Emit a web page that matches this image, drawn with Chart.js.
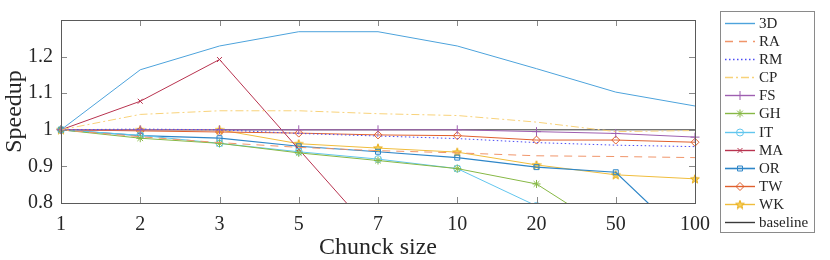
<!DOCTYPE html>
<html>
<head>
<meta charset="utf-8">
<script src="https://cdn.jsdelivr.net/npm/chart.js@4.4.0/dist/chart.umd.min.js"></script>
<style>
  body { margin: 0; background: #fff; }
</style>
</head>
<body>
<canvas id="speedupChart" width="830" height="260"></canvas>
<script>
// x categories and y tick labels
const chunkSizes = ["1", "2", "3", "5", "7", "10", "20", "50", "100"];
const yTicks = [0.8, 0.9, 1, 1.1, 1.2];

// speedup per benchmark
const speedup3D = [1.000, 1.164, 1.229, 1.268, 1.268, 1.229, 1.167, 1.103, 1.065];
const speedupRA = [1.000, 0.981, 0.965, 0.952, 0.943, 0.937, 0.929, 0.927, 0.924];
const speedupRM = [1.000, 1.002, 1.000, 0.990, 0.983, 0.976, 0.965, 0.958, 0.954];
const speedupCP = [1.000, 1.042, 1.052, 1.052, 1.044, 1.039, 1.021, 0.995, 0.998];
const speedupFS = [1.000, 1.000, 1.000, 1.000, 1.000, 1.000, 0.995, 0.990, 0.980];
const speedupGH = [1.000, 0.977, 0.963, 0.937, 0.916, 0.894, 0.852, 0.714, 0.650];
const speedupIT = [1.000, 0.985, 0.963, 0.940, 0.920, 0.894, 0.792, 0.700, 0.650];
const speedupMA = [1.000, 1.078, 1.192, 0.947, 0.703, 0.650, 0.600, 0.600, 0.600];
const speedupOR = [1.000, 0.984, 0.977, 0.955, 0.940, 0.924, 0.898, 0.884, 0.678];
const speedupTW = [1.000, 0.997, 0.994, 0.991, 0.986, 0.984, 0.972, 0.972, 0.966];
const speedupWK = [1.000, 1.000, 1.000, 0.962, 0.950, 0.939, 0.904, 0.877, 0.866];
const baseline  = [1, 1, 1, 1, 1, 1, 1, 1, 1];

const serif = "'Liberation Serif', 'DejaVu Serif', serif";
const textColor = "#262626";

// five point star for WK
function makeStar(color) {
  const c = document.createElement("canvas");
  c.width = 10;
  c.height = 10;
  const g = c.getContext("2d");
  g.beginPath();
  for (let i = 0; i < 10; i++) {
    const r = i % 2 === 0 ? 4.6 : 1.9;
    const a = -Math.PI / 2 + (i * Math.PI) / 5;
    const px = 5 + r * Math.cos(a);
    const py = 5.4 + r * Math.sin(a);
    if (i === 0) g.moveTo(px, py);
    else g.lineTo(px, py);
  }
  g.closePath();
  g.fillStyle = "#F7CF5A";
  g.fill();
  g.strokeStyle = color;
  g.lineWidth = 1;
  g.stroke();
  return c;
}
const starImg = makeStar("#E8AE1A");

function series(label, data, color, extra) {
  return Object.assign(
    {
      label: label,
      data: data,
      borderColor: color,
      backgroundColor: "rgba(0,0,0,0)",
      pointBorderColor: color,
      pointBackgroundColor: "rgba(0,0,0,0)",
      borderWidth: 1,
      borderDash: [],
      pointStyle: false,
      pointRadius: 0,
      pointBorderWidth: 1,
      tension: 0,
      clip: { left: 10, right: 10, top: 0, bottom: 0 },
    },
    extra || {}
  );
}

const datasets = [
  series("3D", speedup3D, "#4DA3DC"),
  series("RA", speedupRA, "#F0956A", { borderDash: [8, 6] }),
  series("RM", speedupRM, "#4C4CF5", { borderDash: [1.5, 2.5] }),
  series("CP", speedupCP, "#F8D27A", { borderDash: [8, 3, 2, 3] }),
  series("FS", speedupFS, "#9E5FB0", { pointStyle: "cross", pointRadius: 4.5 }),
  series("GH", speedupGH, "#87B845", { pointStyle: "star", pointRadius: 4 }),
  series("IT", speedupIT, "#62C6EE", { pointStyle: "circle", pointRadius: 3.5 }),
  series("MA", speedupMA, "#B8334F", { pointStyle: "crossRot", pointRadius: 3.5 }),
  series("OR", speedupOR, "#2E86C8", { pointStyle: "rect", pointRadius: 3.5, borderWidth: 1.2 }),
  series("TW", speedupTW, "#E0602E", { pointStyle: "rectRot", pointRadius: 4 }),
  series("WK", speedupWK, "#F0BD3C", { pointStyle: starImg, pointRadius: 5 }),
  series("baseline", baseline, "#3a3a3a"),
];

// MATLAB style box with inward ticks
const boxPlugin = {
  id: "matlabBox",
  afterDatasetsDraw(chart) {
    const ctx = chart.ctx;
    const a = chart.chartArea;
    const xs = chart.scales.x;
    const ys = chart.scales.y;
    const len = 6;
    ctx.save();
    ctx.lineWidth = 1;
    ctx.strokeStyle = "#8a8a8a";
    ctx.beginPath();
    xs.ticks.forEach((t, i) => {
      const px = Math.round(xs.getPixelForTick(i)) + 0.5;
      ctx.moveTo(px, a.bottom);
      ctx.lineTo(px, a.bottom - len);
      ctx.moveTo(px, a.top);
      ctx.lineTo(px, a.top + len);
    });
    ys.ticks.forEach((t) => {
      const py = Math.round(ys.getPixelForValue(t.value)) + 0.5;
      ctx.moveTo(a.left, py);
      ctx.lineTo(a.left + len, py);
      ctx.moveTo(a.right, py);
      ctx.lineTo(a.right - len, py);
    });
    ctx.stroke();
    ctx.strokeStyle = "#5a5a5a";
    ctx.strokeRect(Math.round(a.left) + 0.5, Math.round(a.top) + 0.5,
      Math.round(a.right - a.left), Math.round(a.bottom - a.top));
    ctx.restore();
  },
};

// legend box at the right
const legendPlugin = {
  id: "sideLegend",
  afterDraw(chart) {
    const ctx = chart.ctx;
    const bx = 720.5, by = 11.5, bw = 94, bh = 221;
    ctx.save();
    ctx.fillStyle = "#fff";
    ctx.fillRect(bx, by, bw, bh);
    ctx.strokeStyle = "#8a8a8a";
    ctx.lineWidth = 1;
    ctx.strokeRect(bx, by, bw, bh);
    const step = 18.15;
    datasets.forEach((ds, i) => {
      const y = Math.round(22.7 + i * step) + 0.5;
      ctx.save();
      ctx.strokeStyle = ds.borderColor;
      ctx.lineWidth = ds.borderWidth + 0.4;
      ctx.setLineDash(ds.borderDash.slice());
      ctx.beginPath();
      ctx.moveTo(725, y);
      ctx.lineTo(755, y);
      ctx.stroke();
      ctx.restore();
      if (ds.pointRadius > 0 && Chart.helpers && Chart.helpers.drawPoint) {
        ctx.save();
        ctx.strokeStyle = ds.pointBorderColor;
        ctx.fillStyle = ds.pointBackgroundColor;
        ctx.lineWidth = ds.pointBorderWidth;
        Chart.helpers.drawPoint(ctx, {
          pointStyle: ds.pointStyle,
          radius: ds.pointRadius,
          rotation: 0,
          borderWidth: ds.pointBorderWidth,
        }, 740, y);
        ctx.restore();
      }
      ctx.fillStyle = textColor;
      ctx.font = "15px " + serif;
      ctx.textBaseline = "middle";
      ctx.textAlign = "left";
      ctx.fillText(ds.label, 759, y + 0.5);
    });
    ctx.restore();
  },
};

document.addEventListener("DOMContentLoaded", function () {
  const ctx = document.getElementById("speedupChart").getContext("2d");
  new Chart(ctx, {
    type: "line",
    data: {
      labels: chunkSizes,
      datasets: datasets,
    },
    options: {
      responsive: false,
      animation: false,
      events: [],
      layout: {
        padding: { top: 11, right: 135, left: 0, bottom: 0 },
      },
      plugins: {
        legend: { display: false },
        tooltip: { enabled: false },
      },
      scales: {
        x: {
          type: "category",
          offset: false,
          grid: { display: false, drawTicks: false },
          border: { display: false },
          ticks: {
            color: textColor,
            font: { family: serif, size: 20 },
            padding: 10,
            maxRotation: 0,
            autoSkip: false,
          },
          title: {
            display: true,
            text: "Chunck size",
            color: textColor,
            font: { family: serif, size: 24, lineHeight: 1.0 },
            padding: { top: 0, bottom: 0 },
          },
          afterFit(scale) {
            scale.height = 57;
          },
        },
        y: {
          min: 0.8,
          max: 1.3,
          grid: { display: false, drawTicks: false },
          border: { display: false },
          ticks: {
            color: textColor,
            font: { family: serif, size: 20 },
            padding: 8,
            callback: (v) => String(Number(v.toFixed(2))),
          },
          afterBuildTicks(scale) {
            scale.ticks = yTicks.map((v) => ({ value: v }));
          },
          title: {
            display: true,
            text: "Speedup",
            color: textColor,
            font: { family: serif, size: 24 },
            padding: { top: 0, bottom: 0 },
          },
          afterFit(scale) {
            scale.width = 61;
          },
        },
      },
    },
    plugins: [boxPlugin, legendPlugin],
  });
});
</script>
</body>
</html>
